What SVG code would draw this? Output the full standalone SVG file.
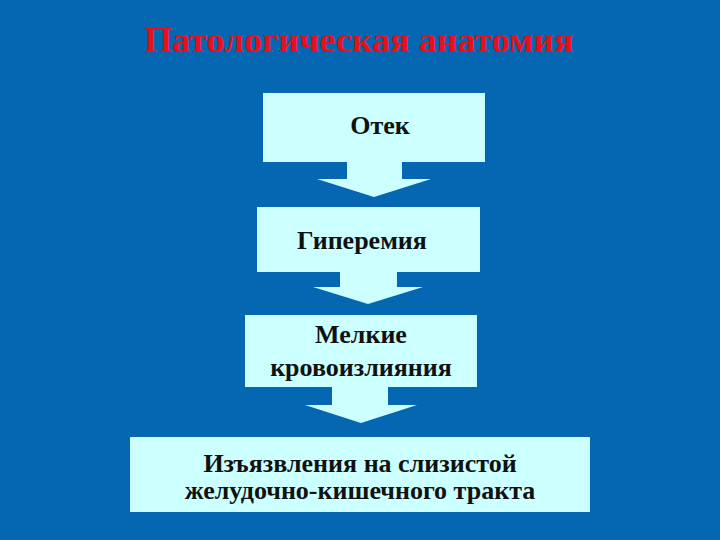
<svg xmlns="http://www.w3.org/2000/svg" width="720" height="540" viewBox="0 0 720 540">
<style>
.bg{fill:#0566B2}
.box{fill:#CCFFFF}
.t{font-family:"Liberation Serif","Times New Roman",serif;font-weight:bold;fill:#111;text-anchor:middle;font-size:26px}
.title{font-family:"Liberation Serif","Times New Roman",serif;font-weight:bold;fill:#E8101A;text-anchor:middle;font-size:36px}
</style>
<rect class="bg" x="0" y="0" width="720" height="540"/>
<text class="title" x="359" y="52">Патологическая анатомия</text>
<g id="node1">
<path class="box" d="M263,93 H485 V162 H402 V179 H431 L374,197 L317,179 H347 V162 H263 Z"/>
<text class="t" x="380" y="134">Отек</text>
</g>
<g id="node2">
<path class="box" d="M257,207 H480 V272 H397 V287 H423 L368,304 L313,287 H340 V272 H257 Z"/>
<text class="t" x="362" y="249">Гиперемия</text>
</g>
<g id="node3">
<path class="box" d="M245,315 H477 V387 H388 V405 H417 L361,423 L305,405 H332 V387 H245 Z"/>
<text class="t" x="361" y="343">Мелкие</text>
<text class="t" x="361" y="376">кровоизлияния</text>
</g>
<g id="node4">
<rect class="box" x="130" y="437" width="460" height="75"/>
<text class="t" x="360" y="472">Изъязвления на слизистой</text>
<text class="t" x="360" y="499">желудочно-кишечного тракта</text>
</g>
<g id="connectors"></g>
</svg>
